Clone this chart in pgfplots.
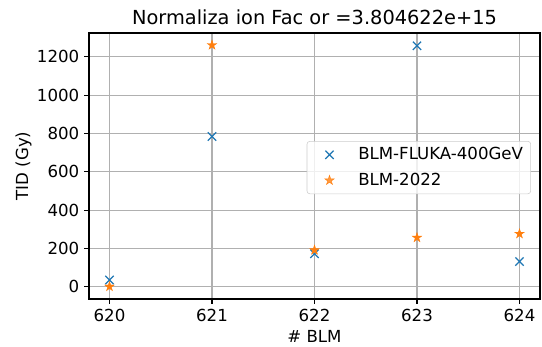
\documentclass[border=0pt]{standalone}
\usepackage{fontspec}
\setmainfont{DejaVu Sans}
\usepackage{pgfplots}
\pgfplotsset{compat=1.18}
\definecolor{mplblue}{HTML}{1F77B4}
\definecolor{mplorange}{HTML}{FF7F0E}
\definecolor{mplgrid}{HTML}{B0B0B0}
\pgfdeclareplotmark{fstar}{%
  \pgfpathmoveto{\pgfpointpolar{90}{\pgfplotmarksize}}%
  \pgfpathlineto{\pgfpointpolar{126}{0.382\pgfplotmarksize}}%
  \pgfpathlineto{\pgfpointpolar{162}{\pgfplotmarksize}}%
  \pgfpathlineto{\pgfpointpolar{198}{0.382\pgfplotmarksize}}%
  \pgfpathlineto{\pgfpointpolar{234}{\pgfplotmarksize}}%
  \pgfpathlineto{\pgfpointpolar{270}{0.382\pgfplotmarksize}}%
  \pgfpathlineto{\pgfpointpolar{306}{\pgfplotmarksize}}%
  \pgfpathlineto{\pgfpointpolar{342}{0.382\pgfplotmarksize}}%
  \pgfpathlineto{\pgfpointpolar{18}{\pgfplotmarksize}}%
  \pgfpathlineto{\pgfpointpolar{54}{0.382\pgfplotmarksize}}%
  \pgfpathclose
  \pgfusepathqfillstroke
}
\pgfplotsset{
  mplleg/.style={legend image code/.code={%
    \path (0bp,0bp) (31bp,0bp);
    \draw[##1, only marks] plot coordinates {(12bp,0bp)};}},
}
\begin{document}
\begin{tikzpicture}
\begin{axis}[
  at={(0,0)}, anchor=south west,
  scale only axis,
  width=324.72bp, height=191.52bp,
  xmin=619.8, xmax=624.2,
  ymin=-63, ymax=1324,
  xtick={620,621,622,623,624},
  ytick={0,200,400,600,800,1000,1200},
  /pgf/number format/assume math mode=true,
  /pgf/number format/1000 sep={},
  tick label style={font=\fontsize{12}{14}\selectfont},
  label style={font=\fontsize{12}{14}\selectfont},
  ylabel style={xshift=0bp, yshift=-3bp},
  title style={font=\fontsize{14}{16}\selectfont, yshift=-3.5bp},
  title={Normaliza ion Fac or =3.804622e+15},
  xlabel={\# BLM},
  ylabel={TID (Gy)},
  grid=major,
  major grid style={color=mplgrid, line width=0.8bp},
  axis line style={line width=0.8bp},
  tick style={black, line width=0.8bp},
  tick align=outside,
  tick pos=left,
  major tick length=3.5bp,
  legend cell align=left,
  legend style={
    at={(0.98,0.494)}, anchor=east,
    font=\fontsize{12}{14}\selectfont,
    draw=black!20, rounded corners=2bp,
    fill=white, fill opacity=0.8, text opacity=1,
    inner xsep=4bp, inner ysep=3bp,
    row sep=5bp,
    nodes={inner sep=1.5bp},
  },
]
\addplot[only marks, mark=x, mark size=4.24bp, color=mplblue, mark options={line width=0.9bp}, mplleg]
  coordinates {(620,36) (621,784) (622,173) (623,1257) (624,132)};
\addlegendentry{BLM-FLUKA-400GeV}
\addplot[only marks, mark=fstar, mark size=3.6bp, color=mplorange, mark options={fill=mplorange, line width=0.3bp}, mplleg]
  coordinates {(620,2) (621,1261) (622,192) (623,257) (624,277)};
\addlegendentry{BLM-2022}
\end{axis}
\pgfresetboundingbox
\path[use as bounding box] (-64.08bp,-34.56bp) rectangle (326.16bp,215.28bp);
\end{tikzpicture}
\end{document}
